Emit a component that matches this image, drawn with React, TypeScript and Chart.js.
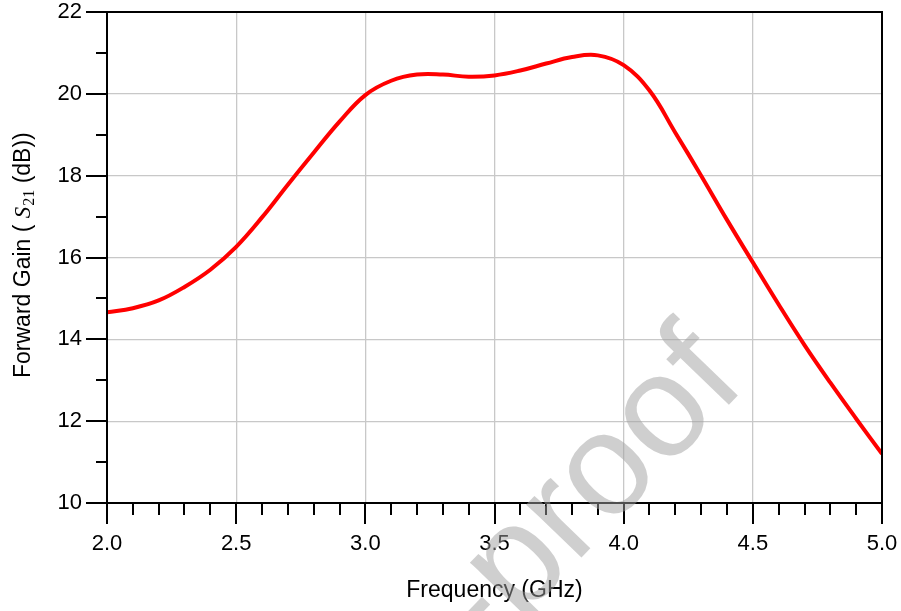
import React, { useEffect, useRef } from "react";
import { Chart, registerables } from "chart.js";

Chart.register(...registerables);

// ---- data ----
const freqGHz = [2.0, 2.1, 2.2, 2.3, 2.4, 2.5, 2.6, 2.7, 2.8, 2.9, 3.0, 3.1, 3.2, 3.3, 3.4, 3.5, 3.6, 3.7, 3.8, 3.9, 4.0, 4.1, 4.2, 4.3, 4.4, 4.5, 4.6, 4.7, 4.8, 4.9, 5.0];
const gainDb = [14.66, 14.76, 14.95, 15.28, 15.7, 16.26, 16.98, 17.78, 18.56, 19.32, 19.97, 20.32, 20.47, 20.47, 20.42, 20.45, 20.57, 20.74, 20.9, 20.94, 20.7, 20.08, 19.05, 18.0, 16.92, 15.88, 14.85, 13.86, 12.94, 12.06, 11.2];

const xMajorTicks = [2.0, 2.5, 3.0, 3.5, 4.0, 4.5, 5.0];
const xTickLabels = ["2.0", "2.5", "3.0", "3.5", "4.0", "4.5", "5.0"];
const xMinorTicks = [2.1, 2.2, 2.3, 2.4, 2.6, 2.7, 2.8, 2.9, 3.1, 3.2, 3.3, 3.4, 3.6, 3.7, 3.8, 3.9, 4.1, 4.2, 4.3, 4.4, 4.6, 4.7, 4.8, 4.9];
const yMajorTicks = [10, 12, 14, 16, 18, 20, 22];
const yTickLabels = ["10", "12", "14", "16", "18", "20", "22"];
const yMinorTicks = [11, 13, 15, 17, 19, 21];

const xTitle = "Frequency (GHz)";
const yTitleBefore = "Forward Gain ( ";
const yTitleSymbol = "S";
const yTitleSub = "21";
const yTitleAfter = " (dB))";
const watermark = "Pre-proof";

const SANS = "'Liberation Sans', Arial, sans-serif";
const SERIF = "'Liberation Serif', 'Times New Roman', serif";

const zeroPad = (s: any) => {
  s.paddingTop = 0;
  s.paddingBottom = 0;
  s.paddingLeft = 0;
  s.paddingRight = 0;
};

const decorPlugin = {
  id: "decor",
  afterDraw(chart: any) {
    const { ctx, chartArea: a, scales } = chart;
    const x = scales.x;
    const y = scales.y;
    ctx.save();
    // frame
    ctx.strokeStyle = "#000";
    ctx.lineWidth = 2;
    ctx.strokeRect(a.left, a.top, a.right - a.left, a.bottom - a.top);
    // ticks
    ctx.beginPath();
    xMajorTicks.forEach((v) => {
      const px = Math.round(x.getPixelForValue(v));
      ctx.moveTo(px, a.bottom);
      ctx.lineTo(px, a.bottom + 21);
    });
    xMinorTicks.forEach((v) => {
      const px = Math.round(x.getPixelForValue(v));
      ctx.moveTo(px, a.bottom);
      ctx.lineTo(px, a.bottom + 12);
    });
    yMajorTicks.forEach((v) => {
      const py = Math.round(y.getPixelForValue(v));
      ctx.moveTo(a.left, py);
      ctx.lineTo(a.left - 21, py);
    });
    yMinorTicks.forEach((v) => {
      const py = Math.round(y.getPixelForValue(v));
      ctx.moveTo(a.left, py);
      ctx.lineTo(a.left - 11, py);
    });
    ctx.stroke();

    // x title
    ctx.fillStyle = "#000";
    ctx.font = `23px ${SANS}`;
    ctx.textAlign = "center";
    ctx.textBaseline = "alphabetic";
    ctx.fillText(xTitle, (a.left + a.right) / 2, 597);

    // y title (rotated, with italic S and subscript)
    ctx.save();
    ctx.translate(30, 378);
    ctx.rotate(-Math.PI / 2);
    ctx.textAlign = "left";
    let cx = 0;
    ctx.font = `23px ${SANS}`;
    ctx.fillText(yTitleBefore, cx, 0);
    cx += ctx.measureText(yTitleBefore).width;
    ctx.font = `italic 23px ${SERIF}`;
    ctx.fillText(yTitleSymbol, cx, 0);
    cx += ctx.measureText(yTitleSymbol).width + 1;
    ctx.font = `16px ${SERIF}`;
    ctx.fillText(yTitleSub, cx, 4);
    cx += ctx.measureText(yTitleSub).width;
    ctx.font = `23px ${SANS}`;
    ctx.fillText(yTitleAfter, cx, 0);
    ctx.restore();

    // watermark
    ctx.save();
    ctx.translate(748, 385);
    ctx.rotate((-46 * Math.PI) / 180);
    ctx.font = `145px ${SANS}`;
    ctx.textAlign = "right";
    ctx.fillStyle = "rgba(160,160,160,0.5)";
    ctx.fillText(watermark, 0, 0);
    ctx.restore();

    ctx.restore();
  },
};

export default function App() {
  const ref = useRef<HTMLCanvasElement | null>(null);
  useEffect(() => {
    if (!ref.current) return;
    const chart = new Chart(ref.current, {
      type: "line",
      data: {
        datasets: [
          {
            data: freqGHz.map((f, i) => ({ x: f, y: gainDb[i] })),
            borderColor: "#ff0000",
            borderWidth: 4,
            pointRadius: 0,
            fill: false,
            tension: 0.4,
          },
        ],
      },
      options: {
        animation: false,
        responsive: false,
        events: [],
        layout: { padding: { left: 0, right: 19, top: 12, bottom: 0 } },
        plugins: { legend: { display: false }, tooltip: { enabled: false } },
        scales: {
          x: {
            type: "linear",
            min: 2,
            max: 5,
            afterFit: (s: any) => {
              s.height = 108;
              zeroPad(s);
            },
            ticks: {
              stepSize: 0.5,
              padding: 28,
              color: "#000",
              font: { family: SANS, size: 22 },
              maxRotation: 0,
              callback: (v: any) => {
                const i = xMajorTicks.findIndex((t) => Math.abs(t - Number(v)) < 1e-6);
                return i >= 0 ? xTickLabels[i] : "";
              },
            },
            grid: { color: "#c8c8c8", lineWidth: 1.3, drawTicks: false },
            border: { display: false },
          },
          y: {
            type: "linear",
            min: 10,
            max: 22,
            afterFit: (s: any) => {
              s.width = 107;
              zeroPad(s);
            },
            ticks: {
              stepSize: 2,
              padding: 25,
              color: "#000",
              font: { family: SANS, size: 22 },
              callback: (v: any) => {
                const i = yMajorTicks.findIndex((t) => Math.abs(t - Number(v)) < 1e-6);
                return i >= 0 ? yTickLabels[i] : "";
              },
            },
            grid: { color: "#c8c8c8", lineWidth: 1.3, drawTicks: false },
            border: { display: false },
          },
        },
      },
      plugins: [decorPlugin],
    } as any);
    return () => chart.destroy();
  }, []);
  return (
    <div style={{ position: "fixed", left: 0, top: 0, width: 901, height: 611, background: "#fff" }}>
      <canvas ref={ref} width={901} height={611} style={{ display: "block" }} />
    </div>
  );
}
